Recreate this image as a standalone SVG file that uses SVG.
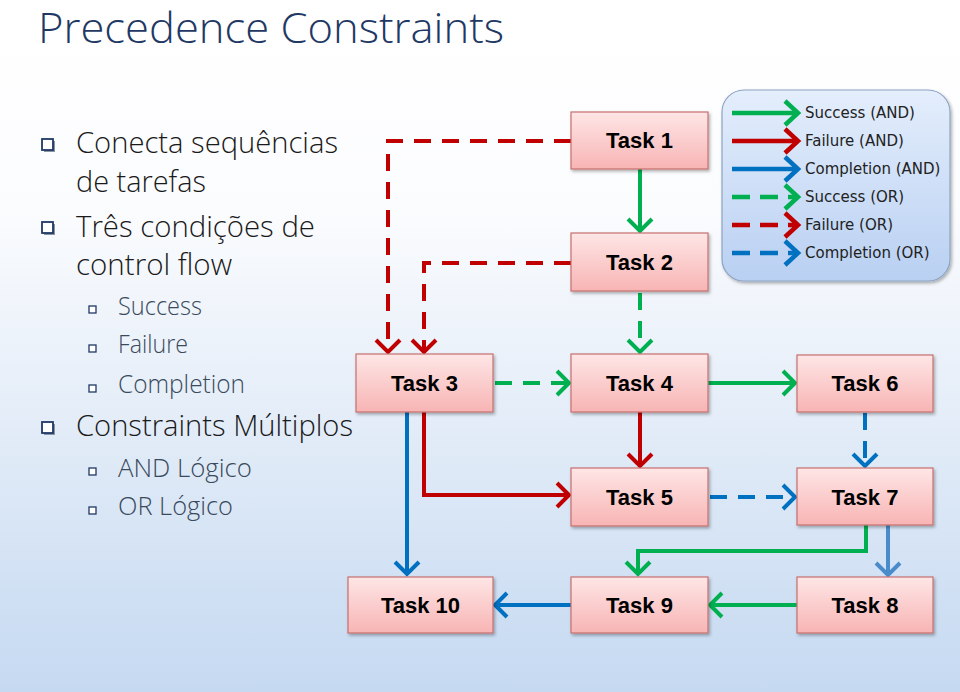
<svg xmlns="http://www.w3.org/2000/svg" width="960" height="692" viewBox="0 0 960 692">
<defs>
<linearGradient id="bg" x1="0" y1="0" x2="0" y2="1">
<stop offset="0" stop-color="#ffffff"/>
<stop offset="0.3" stop-color="#fbfcfe"/>
<stop offset="0.6" stop-color="#e4edf8"/>
<stop offset="1" stop-color="#c5d9f1"/>
</linearGradient>
<linearGradient id="box" x1="0" y1="0" x2="0" y2="1">
<stop offset="0" stop-color="#fee6e6"/>
<stop offset="1" stop-color="#f8b4b4"/>
</linearGradient>
<linearGradient id="leg" x1="0" y1="0" x2="0" y2="1">
<stop offset="0" stop-color="#e4eefc"/>
<stop offset="1" stop-color="#b9d0f2"/>
</linearGradient>
<filter id="sh" x="-10%" y="-10%" width="125%" height="130%">
<feDropShadow dx="1.5" dy="2" stdDeviation="1.5" flood-color="#000" flood-opacity="0.3"/>
</filter>
<marker id="mg" markerUnits="userSpaceOnUse" markerWidth="30" markerHeight="30" refX="20" refY="12" orient="auto" overflow="visible">
<path d="M8,0 L20,12 L8,24" fill="none" stroke="#00b050" stroke-width="4"/>
</marker>
<marker id="mr" markerUnits="userSpaceOnUse" markerWidth="30" markerHeight="30" refX="20" refY="12" orient="auto" overflow="visible">
<path d="M8,0 L20,12 L8,24" fill="none" stroke="#c00000" stroke-width="4"/>
</marker>
<marker id="mb" markerUnits="userSpaceOnUse" markerWidth="30" markerHeight="30" refX="20" refY="12" orient="auto" overflow="visible">
<path d="M8,0 L20,12 L8,24" fill="none" stroke="#0070c0" stroke-width="4"/>
</marker>
<marker id="ml" markerUnits="userSpaceOnUse" markerWidth="30" markerHeight="30" refX="20" refY="12" orient="auto" overflow="visible">
<path d="M8,0 L20,12 L8,24" fill="none" stroke="#4a8ccb" stroke-width="4"/>
</marker>
<marker id="Lg" markerUnits="userSpaceOnUse" markerWidth="30" markerHeight="30" refX="16" refY="12" orient="auto" overflow="visible">
<path d="M3,0 L16,12 L3,24" fill="none" stroke="#00b050" stroke-width="4.5"/>
</marker>
<marker id="Lr" markerUnits="userSpaceOnUse" markerWidth="30" markerHeight="30" refX="16" refY="12" orient="auto" overflow="visible">
<path d="M3,0 L16,12 L3,24" fill="none" stroke="#c00000" stroke-width="4.5"/>
</marker>
<marker id="Lb" markerUnits="userSpaceOnUse" markerWidth="30" markerHeight="30" refX="16" refY="12" orient="auto" overflow="visible">
<path d="M3,0 L16,12 L3,24" fill="none" stroke="#0070c0" stroke-width="4.5"/>
</marker>
</defs>
<style>
.t1{font-family:"Open Sans","Liberation Sans",sans-serif;font-weight:350;font-size:29px;fill:#1a1a1a}
.t2{font-family:"Open Sans","Liberation Sans",sans-serif;font-weight:300;font-size:25px;fill:#3a4a5c}
.b1{fill:#ffffff;stroke:#1f3864;stroke-width:1.8}
.b1s{fill:#8a93a3}
.b2{fill:#ffffff;stroke:#1f3864;stroke-width:1.3}
.node rect{fill:url(#box);stroke:#c5706e;stroke-width:1.2;filter:url(#sh)}
.node text{font-family:"Liberation Sans",Arial,sans-serif;font-weight:bold;font-size:22px;fill:#000;text-anchor:middle}
.c{fill:none;stroke-width:4}
.g{stroke:#00b050}
.r{stroke:#c00000}
.bl{stroke:#0070c0}
.lb{stroke:#4a8ccb}
.d{stroke-dasharray:17 11}
.lt{font-family:"DejaVu Sans",Verdana,sans-serif;font-size:15px;fill:#222}
.ll{fill:none;stroke-width:4.5}
</style>
<rect x="0" y="0" width="960" height="692" fill="url(#bg)"/>
<text x="38" y="43" font-family="'Open Sans','Liberation Sans',sans-serif" font-weight="300" font-size="43" fill="#1f3864" textLength="466" lengthAdjust="spacingAndGlyphs">Precedence Constraints</text>
<g id="bullets">
<rect class="b1s" x="44" y="141" width="11" height="11"/><rect class="b1" x="42" y="139" width="11" height="11"/>
<text class="t1" x="76" y="153" textLength="262" lengthAdjust="spacingAndGlyphs">Conecta sequências</text>
<text class="t1" x="76" y="192" textLength="130" lengthAdjust="spacingAndGlyphs">de tarefas</text>
<rect class="b1s" x="44" y="224" width="11" height="11"/><rect class="b1" x="42" y="222" width="11" height="11"/>
<text class="t1" x="76" y="237" textLength="239" lengthAdjust="spacingAndGlyphs">Três condições de</text>
<text class="t1" x="76" y="275" textLength="156" lengthAdjust="spacingAndGlyphs">control flow</text>
<rect class="b2" x="89" y="306" width="7" height="7"/>
<text class="t2" x="118" y="315" textLength="84" lengthAdjust="spacingAndGlyphs">Success</text>
<rect class="b2" x="89" y="345" width="7" height="7"/>
<text class="t2" x="118" y="353" textLength="70" lengthAdjust="spacingAndGlyphs">Failure</text>
<rect class="b2" x="89" y="385" width="7" height="7"/>
<text class="t2" x="118" y="393" textLength="127" lengthAdjust="spacingAndGlyphs">Completion</text>
<rect class="b1s" x="44" y="424" width="11" height="11"/><rect class="b1" x="42" y="422" width="11" height="11"/>
<text class="t1" x="76" y="436" textLength="277" lengthAdjust="spacingAndGlyphs">Constraints Múltiplos</text>
<rect class="b2" x="89" y="468" width="7" height="7"/>
<text class="t2" x="118" y="477" textLength="134" lengthAdjust="spacingAndGlyphs">AND Lógico</text>
<rect class="b2" x="89" y="507" width="7" height="7"/>
<text class="t2" x="118" y="515" textLength="115" lengthAdjust="spacingAndGlyphs">OR Lógico</text>
</g>
<g id="legend">
<rect x="722" y="90" width="228" height="191" rx="22" fill="url(#leg)" stroke="#8ea3c2" stroke-width="1.2" filter="url(#sh)"/>
<path class="ll" stroke="#00b050" d="M732,113 L798,113" marker-end="url(#Lg)"/>
<path class="ll" stroke="#c00000" d="M732,141 L798,141" marker-end="url(#Lr)"/>
<path class="ll" stroke="#0070c0" d="M732,169 L798,169" marker-end="url(#Lb)"/>
<path class="ll" stroke="#00b050" stroke-dasharray="18 10" d="M732,197 L798,197" marker-end="url(#Lg)"/>
<path class="ll" stroke="#c00000" stroke-dasharray="18 10" d="M732,225 L798,225" marker-end="url(#Lr)"/>
<path class="ll" stroke="#0070c0" stroke-dasharray="18 10" d="M732,253 L798,253" marker-end="url(#Lb)"/>
<text class="lt" x="805" y="118">Success (AND)</text>
<text class="lt" x="805" y="146">Failure (AND)</text>
<text class="lt" x="805" y="174">Completion (AND)</text>
<text class="lt" x="805" y="202">Success (OR)</text>
<text class="lt" x="805" y="230">Failure (OR)</text>
<text class="lt" x="805" y="258">Completion (OR)</text>
</g>
<g id="connectors">
<path class="c g" d="M640,169 L640,231" marker-end="url(#mg)"/>
<path class="c g d" d="M640,293 L640,352" marker-end="url(#mg)"/>
<path class="c r d" d="M571,141 L388,141 L388,352" marker-end="url(#mr)"/>
<path class="c r d" d="M571,263 L424,263 L424,352" marker-end="url(#mr)"/>
<path class="c g d" d="M495,383 L569,383" marker-end="url(#mg)"/>
<path class="c g" d="M708,383 L795,383" marker-end="url(#mg)"/>
<path class="c r" d="M640,412 L640,466" marker-end="url(#mr)"/>
<path class="c r" d="M424,412 L424,495 L569,495" marker-end="url(#mr)"/>
<path class="c bl" d="M407,412 L407,574" marker-end="url(#mb)"/>
<path class="c bl d" d="M710,497 L795,497" marker-end="url(#mb)"/>
<path class="c bl d" d="M865,413 L865,466" marker-end="url(#mb)"/>
<path class="c g" d="M866,525 L866,551 L638,551 L638,574" marker-end="url(#mg)"/>
<path class="c lb" d="M888,525 L888,575" marker-end="url(#ml)"/>
<path class="c g" d="M797,605 L710,605" marker-end="url(#mg)"/>
<path class="c bl" d="M571,605 L495,605" marker-end="url(#mb)"/>
</g>
<g id="task1" class="node"><rect x="571" y="112" width="137" height="57"/><text x="639.5" y="148">Task 1</text></g>
<g id="task2" class="node"><rect x="571" y="233" width="137" height="58"/><text x="639.5" y="270">Task 2</text></g>
<g id="task3" class="node"><rect x="356" y="354" width="137" height="58"/><text x="424.5" y="391">Task 3</text></g>
<g id="task4" class="node"><rect x="571" y="354" width="137" height="58"/><text x="639.5" y="391">Task 4</text></g>
<g id="task5" class="node"><rect x="571" y="468" width="137" height="58"/><text x="639.5" y="505">Task 5</text></g>
<g id="task6" class="node"><rect x="797" y="355" width="136" height="57"/><text x="865" y="391">Task 6</text></g>
<g id="task7" class="node"><rect x="797" y="468" width="136" height="57"/><text x="865" y="505">Task 7</text></g>
<g id="task8" class="node"><rect x="797" y="577" width="136" height="56"/><text x="865" y="613">Task 8</text></g>
<g id="task9" class="node"><rect x="571" y="577" width="137" height="56"/><text x="639.5" y="613">Task 9</text></g>
<g id="task10" class="node"><rect x="348" y="577" width="145" height="56"/><text x="420.5" y="613">Task 10</text></g>
</svg>
